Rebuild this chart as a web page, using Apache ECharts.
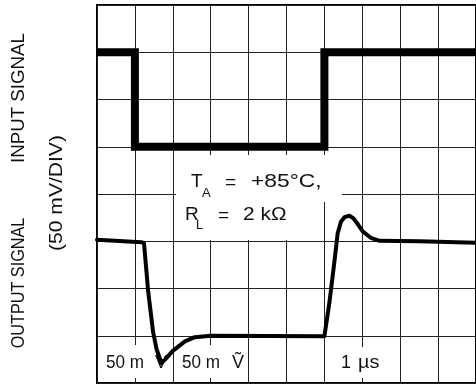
<!DOCTYPE html>
<html>
<head>
<meta charset="utf-8">
<script src="https://cdn.jsdelivr.net/npm/echarts@6/dist/echarts.min.js"></script>
<style>
  html, body { margin: 0; padding: 0; background: #fff; }
  #chart { width: 476px; height: 389px; }
</style>
</head>
<body>
<div id="chart"></div>
<script>
// Screen is 10 horizontal divisions (1 µs/div) by 8 vertical divisions (50 mV/div)
const xDivisions = 10;
const yDivisions = 8;

// Input step, in divisions
const inputTime  = [0, 1, 1, 6, 6, 10];
const inputLevel = [7, 7, 5, 5, 7, 7];

// Output response, in divisions
const outputTime  = [0, 1.17, 1.24, 1.35, 1.48, 1.57, 1.70, 1.80, 2.00, 2.32, 2.58, 3.00, 6.00,
                     6.13, 6.26, 6.35, 6.44, 6.53, 6.66, 6.76, 6.83, 7.01, 7.23, 7.45, 8.50, 10];
const outputLevel = [3.03, 2.98, 2.96, 1.94, 1.08, 0.72, 0.42, 0.50, 0.68, 0.88, 0.97, 1.00, 0.99,
                     1.69, 2.54, 3.17, 3.42, 3.51, 3.54, 3.49, 3.42, 3.21, 3.07, 3.01, 3.00, 2.97];

const pairs = (xs, ys) => xs.map((x, i) => [x, ys[i]]);

const FONT = '"Liberation Sans", Arial, sans-serif';
const chart = echarts.init(document.getElementById('chart'), null, { renderer: 'canvas' });

// Text helper: left-aligned, vertically centred, optional horizontal stretch / rotation
function txt(text, x, y, size, sx, align, rot) {
  return {
    type: 'text', x: x, y: y, z: 1, z2: 2, silent: true,
    scaleX: sx || 1, rotation: rot || 0,
    style: { text: text, font: size + 'px ' + FONT, fill: '#111',
             textAlign: align || 'left', textVerticalAlign: 'middle' }
  };
}
function box(x, y, w, h) {
  return { type: 'rect', z: 1, z2: 1, silent: true,
           shape: { x: x, y: y, width: w, height: h },
           style: { fill: '#fff' } };
}
const UP = Math.PI / 2;

const graphics = [
  // side titles
  txt('OUTPUT SIGNAL', 19, 283, 18, 0.9, 'center', UP),
  txt('INPUT SIGNAL', 19, 98, 18, 1.04, 'center', UP),
  txt('(50 mV/DIV)', 57, 193, 18, 1.17, 'center', UP),

  // conditions note
  box(176, 155, 166, 47),
  box(176, 200, 139, 40),
  txt('T', 191, 182, 19),
  txt('A', 202, 193, 13),
  txt('=', 225, 183, 19),
  txt('+85°C,', 251, 182, 19, 1.2),
  txt('R', 185, 215, 19),
  txt('L', 196, 225, 13),
  txt('=', 218, 216, 19),
  txt('2 kΩ', 243, 215, 19, 1.1),

  // scale readouts
  box(103, 345, 66, 33),
  box(178, 345, 69, 33),
  box(335, 347, 55, 31),
  txt('50 m', 106, 363, 18, 0.95),
  txt('V', 155, 363, 18),
  txt('50 m', 182, 363, 18, 0.95),
  txt('Ṽ', 232, 363, 18),
  txt('1', 341, 363, 18),
  txt('µs', 358, 363, 18, 1.1)
];

chart.setOption({
  animation: false,
  backgroundColor: '#fff',
  grid: {
    left: 97, top: 5, width: 380, height: 378,
    show: true, borderColor: '#000', borderWidth: 2, backgroundColor: 'transparent'
  },
  xAxis: {
    type: 'value', min: 0, max: xDivisions, interval: 1,
    axisLine: { show: false }, axisTick: { show: false }, axisLabel: { show: false },
    splitLine: { show: true, lineStyle: { color: '#222', width: 1 } }
  },
  yAxis: {
    type: 'value', min: 0, max: yDivisions, interval: 1,
    axisLine: { show: false }, axisTick: { show: false }, axisLabel: { show: false },
    splitLine: { show: true, lineStyle: { color: '#222', width: 1 } }
  },
  graphic: { elements: graphics },
  series: [
    {
      name: 'Input', type: 'line', z: 3, showSymbol: false, silent: true,
      data: pairs(inputTime, inputLevel),
      lineStyle: { color: '#000', width: 8, join: 'miter', cap: 'butt' }
    },
    {
      name: 'Output', type: 'line', z: 3, showSymbol: false, silent: true,
      data: pairs(outputTime, outputLevel),
      lineStyle: { color: '#000', width: 4, join: 'round', cap: 'round' }
    }
  ]
});
</script>
</body>
</html>
